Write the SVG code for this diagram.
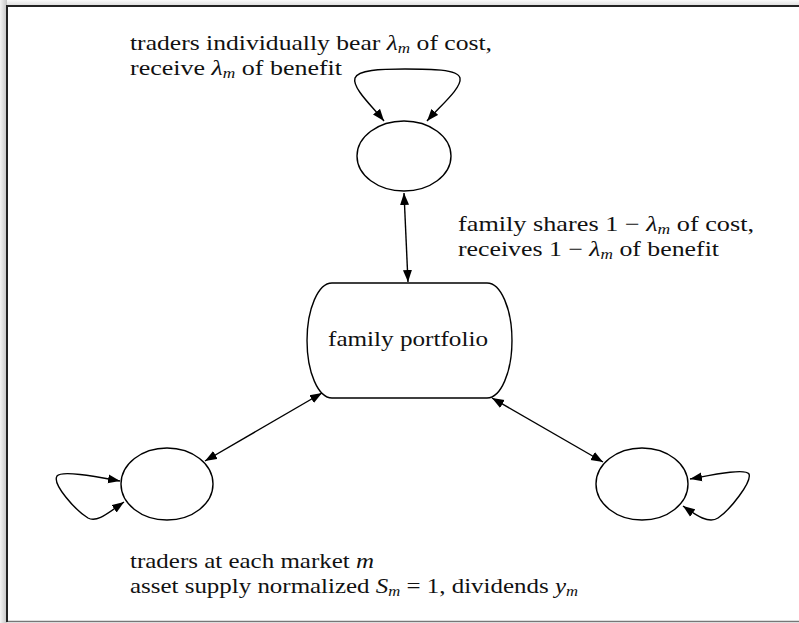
<svg xmlns="http://www.w3.org/2000/svg" width="799" height="623" viewBox="0 0 799 623">
  <defs>
    <linearGradient id="shL" x1="0" y1="0" x2="1" y2="0">
      <stop offset="0" stop-color="#f4f4f4"/>
      <stop offset="1" stop-color="#c4c4c4"/>
    </linearGradient>
    <linearGradient id="shT" x1="0" y1="0" x2="0" y2="1">
      <stop offset="0" stop-color="#fafafa"/>
      <stop offset="1" stop-color="#dcdcdc"/>
    </linearGradient>
    <marker id="ah" markerUnits="userSpaceOnUse" markerWidth="13" markerHeight="10" refX="12" refY="5" orient="auto-start-reverse">
      <path d="M0,0.5 L12,5 L0,9.5 z" fill="#000"/>
    </marker>
    <style>
      .node { fill: #fff; stroke: #000; stroke-width: 1.4; }
      .edge { fill: none; stroke: #000; stroke-width: 1.4; marker-start: url(#ah); marker-end: url(#ah); }
      .lbl { font-family: "Liberation Serif", "Times New Roman", serif; font-size: 21px; fill: #111; }
      .it { font-style: italic; }
      .sub { font-style: italic; font-size: 14px; }
    </style>
  </defs>

  <rect x="0" y="0" width="799" height="623" fill="#fff"/>
  <g id="frame">
    <rect x="0" y="0" width="7" height="623" fill="url(#shL)"/>
    <rect x="7" y="0" width="792" height="6" fill="url(#shT)"/>
    <path d="M7,621.5 L800,621.5" stroke="#777" stroke-width="1.5" fill="none"/>
    <path d="M7,622 L7,6 L800,6" stroke="#222" stroke-width="2" fill="none"/>
  </g>

  <g id="connectors">
    <path class="edge" d="M404,193 L408,282"/>
    <path class="edge" d="M322,393 L205,461"/>
    <path class="edge" d="M492,398 L603,462"/>
    <path class="edge" d="M384,121 C372,106 352,88 355,78 C358,70 380,69 405,69 C430,69 458,69 460,78 C462,88 440,106 427,121"/>
    <path class="edge" d="M120,481 C98,477 62,470 57,476 C52,484 75,510 88,518 C97,523 108,513 124,502"/>
    <path class="edge" d="M690,479 C712,475 745,468 749,474 C752,482 730,510 718,518 C709,524 697,516 683,506"/>
  </g>

  <g id="n_top">
    <ellipse class="node" cx="404" cy="156" rx="47" ry="35"/>
  </g>
  <g id="n_portfolio">
    <path class="node" d="M332,283 L487,283 A25,57.5 0 0 1 487,398 L332,398 A25,57.5 0 0 1 332,283 Z"/>
    <text class="lbl" x="328" y="346" textLength="160" lengthAdjust="spacingAndGlyphs">family portfolio</text>
  </g>
  <g id="n_left">
    <ellipse class="node" cx="167" cy="484" rx="46" ry="36"/>
  </g>
  <g id="n_right">
    <ellipse class="node" cx="642" cy="484" rx="46" ry="36"/>
  </g>

  <g id="labels">
    <text class="lbl" x="130" y="50" textLength="362" lengthAdjust="spacingAndGlyphs">traders individually bear <tspan class="it">λ</tspan><tspan class="sub" dy="3">m</tspan><tspan dy="-3"> of cost,</tspan></text>
    <text class="lbl" x="130" y="75" textLength="212" lengthAdjust="spacingAndGlyphs">receive <tspan class="it">λ</tspan><tspan class="sub" dy="3">m</tspan><tspan dy="-3"> of benefit</tspan></text>
    <text class="lbl" x="458" y="231" textLength="296" lengthAdjust="spacingAndGlyphs">family shares 1 − <tspan class="it">λ</tspan><tspan class="sub" dy="3">m</tspan><tspan dy="-3"> of cost,</tspan></text>
    <text class="lbl" x="458" y="256" textLength="261" lengthAdjust="spacingAndGlyphs">receives 1 − <tspan class="it">λ</tspan><tspan class="sub" dy="3">m</tspan><tspan dy="-3"> of benefit</tspan></text>
    <text class="lbl" x="130" y="568" textLength="244" lengthAdjust="spacingAndGlyphs">traders at each market <tspan class="it">m</tspan></text>
    <text class="lbl" x="130" y="593" textLength="448" lengthAdjust="spacingAndGlyphs">asset supply normalized <tspan class="it">S</tspan><tspan class="sub" dy="3">m</tspan><tspan dy="-3"> = 1, dividends </tspan><tspan class="it">y</tspan><tspan class="sub" dy="3">m</tspan></text>
  </g>
</svg>
